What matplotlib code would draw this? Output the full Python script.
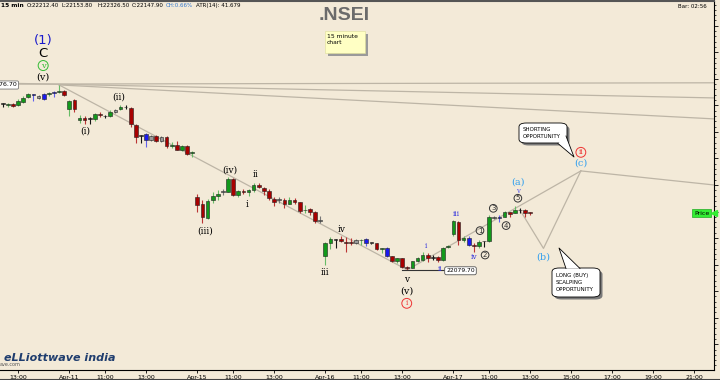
import numpy as np
import matplotlib
matplotlib.use("Agg")
from matplotlib import pyplot as plt
from matplotlib.ticker import MultipleLocator, FixedLocator, FixedFormatter
from matplotlib.patches import Rectangle, FancyBboxPatch, Polygon

# 15 minute NSEI bars, oldest first
opens = [22706, 22701, 22705, 22701, 22713, 22731, 22741, 22735, 22724, 22741,
         22747, 22749, 22754, 22686, 22720, 22645, 22652, 22649, 22649, 22667,
         22660, 22660, 22683, 22686, 22692, 22690, 22626, 22585, 22592, 22585,
         22585, 22581, 22581, 22547, 22551, 22532, 22547, 22520, 22355, 22328,
         22276, 22342, 22359, 22375, 22375, 22423, 22362, 22377, 22372, 22381,
         22398, 22387, 22379, 22349, 22343, 22343, 22330, 22343, 22334, 22304,
         22310, 22300, 22268, 22131, 22183, 22195, 22196, 22185, 22185, 22191,
         22191, 22195, 22181, 22180, 22159, 22161, 22132, 22112, 22123, 22089,
         22089, 22112, 22119, 22136, 22127, 22129, 22117, 22166, 22215, 22262,
         22191, 22202, 22172, 22170, 22189, 22187, 22278, 22278, 22281, 22298,
         22293, 22306, 22306, 22296]
highs = [22707, 22709, 22709, 22724, 22735, 22747, 22743, 22739, 22747, 22750,
         22754, 22777, 22758, 22720, 22724, 22663, 22660, 22656, 22671, 22675,
         22664, 22683, 22686, 22701, 22701, 22694, 22630, 22588, 22596, 22588,
         22588, 22585, 22585, 22562, 22564, 22551, 22549, 22528, 22366, 22343,
         22347, 22374, 22381, 22385, 22430, 22426, 22381, 22385, 22385, 22408,
         22408, 22394, 22385, 22355, 22353, 22351, 22355, 22351, 22336, 22325,
         22313, 22302, 22283, 22185, 22204, 22196, 22208, 22204, 22200, 22195,
         22195, 22202, 22183, 22181, 22164, 22166, 22134, 22125, 22125, 22093,
         22115, 22127, 22146, 22144, 22136, 22131, 22168, 22174, 22268, 22264,
         22208, 22208, 22180, 22193, 22189, 22287, 22283, 22287, 22302, 22300,
         22319, 22313, 22308, 22300]
lows = [22694, 22694, 22694, 22698, 22709, 22728, 22716, 22724, 22722, 22735,
        22731, 22745, 22735, 22660, 22675, 22634, 22630, 22630, 22641, 22656,
        22652, 22656, 22671, 22683, 22686, 22618, 22558, 22558, 22543, 22566,
        22562, 22562, 22541, 22539, 22530, 22528, 22513, 22505, 22298, 22257,
        22272, 22332, 22343, 22362, 22372, 22359, 22355, 22366, 22357, 22372,
        22389, 22362, 22345, 22319, 22332, 22313, 22328, 22328, 22294, 22293,
        22287, 22255, 22257, 22099, 22159, 22163, 22185, 22149, 22174, 22178,
        22174, 22170, 22176, 22155, 22142, 22129, 22110, 22106, 22089, 22080,
        22087, 22110, 22114, 22110, 22117, 22110, 22115, 22163, 22208, 22174,
        22185, 22170, 22149, 22164, 22168, 22185, 22272, 22262, 22279, 22281,
        22293, 22294, 22281, 22287]
closes = [22705, 22705, 22699, 22716, 22728, 22743, 22739, 22726, 22743, 22745,
          22745, 22754, 22739, 22716, 22686, 22652, 22645, 22647, 22667, 22662,
          22658, 22675, 22675, 22692, 22694, 22630, 22581, 22583, 22569, 22568,
          22566, 22564, 22545, 22549, 22532, 22547, 22517, 22522, 22325, 22279,
          22340, 22359, 22366, 22374, 22423, 22362, 22379, 22374, 22381, 22398,
          22392, 22379, 22351, 22334, 22342, 22330, 22343, 22334, 22302, 22306,
          22300, 22264, 22266, 22181, 22195, 22193, 22189, 22183, 22183, 22181,
          22193, 22180, 22180, 22159, 22161, 22132, 22112, 22123, 22091, 22087,
          22114, 22123, 22138, 22123, 22125, 22117, 22164, 22168, 22264, 22193,
          22202, 22174, 22170, 22185, 22187, 22278, 22276, 22276, 22298, 22291,
          22306, 22304, 22296, 22294]
# bar colour code: g up, r down, b blue, s grey, k black
kinds = ("kgrgggbsbg" "bgrgrgrkgr" "kgsgkrrkbs" "rsrgrgrgrr" "gggsgrgrgg"
         "rrrrsrgrrg" "rrsggkrrrs" "gbkrgbrgrr" "gggrkrgggr" "gbrgkgsbgr" "gkrr")

tick_pos = [3, 13, 20, 28, 38, 45, 53, 63, 70, 78, 88, 95, 103, 111, 119, 127, 135]
tick_lab = ["13:00", "Apr-11", "11:00", "13:00", "Apr-15", "11:00", "13:00",
            "Apr-16", "11:00", "13:00", "Apr-17", "11:00", "13:00", "15:00",
            "17:00", "19:00", "21:00"]

low_price = 22079.70
high_label = "22776.70"

# wave labels: text, bar, price, colour, size, circled, family
waves = [
    ("(1)", 7.9, 22946, "#1a1acc", 9.5, False, "sans"),
    ("C", 7.9, 22897, "black", 9.5, False, "sans"),
    ("v", 7.9, 22850, "#33bb33", 6, True, "serif"),
    ("(v)", 7.9, 22807, "black", 7, False, "serif"),
    ("(i)", 16.1, 22603, "black", 6.5, False, "serif"),
    ("(ii)", 22.7, 22731, "black", 6.5, False, "serif"),
    ("(iii)", 39.5, 22227, "black", 6.5, False, "serif"),
    ("(iv)", 44.4, 22456, "black", 6.5, False, "serif"),
    ("ii", 49.3, 22438, "black", 6.5, False, "serif"),
    ("i", 47.8, 22325, "black", 6.5, False, "serif"),
    ("iii", 63, 22072, "black", 6.5, False, "serif"),
    ("iv", 66.2, 22233, "black", 6.5, False, "serif"),
    ("v", 78.9, 22042, "black", 6.5, False, "serif"),
    ("(v)", 78.9, 22000, "black", 7, False, "serif"),
    ("i", 78.9, 21954, "#ee3333", 5.5, True, "serif"),
    ("i", 82.6, 22170, "#3333dd", 5.5, False, "serif"),
    ("ii", 85.4, 22082, "#3333dd", 5.5, False, "serif"),
    ("iii", 88.5, 22291, "#3333dd", 5.5, False, "serif"),
    ("iv", 92.1, 22130, "#3333dd", 5.5, False, "serif"),
    ("1", 93.2, 22228, "#333333", 5, True, "sans"),
    ("2", 94.2, 22136, "#333333", 5, True, "sans"),
    ("3", 95.8, 22312, "#333333", 5, True, "sans"),
    ("4", 98.3, 22247, "#333333", 5, True, "sans"),
    ("5", 100.6, 22350, "#333333", 5, True, "sans"),
    ("v", 100.6, 22378, "#5555ee", 5, False, "serif"),
    ("(a)", 100.6, 22410, "#33a0ee", 7, False, "serif"),
    ("(b)", 105.6, 22128, "#33a0ee", 7, False, "serif"),
    ("(c)", 112.9, 22482, "#33a0ee", 7, False, "serif"),
    ("ii", 112.9, 22523, "#ee3333", 5.5, True, "serif"),
]

bg = "#f3ead8"
fig = plt.figure(figsize=(7.2, 3.8), dpi=100, facecolor=bg)
ax = fig.add_axes([0, 10 / 380, 714 / 720, 369 / 380], facecolor=bg)

x = np.arange(len(opens))
o = np.array(opens, float)
c = np.array(closes, float)
h = np.array(highs, float)
l = np.array(lows, float)

body_col = {"g": "#11991a", "r": "#a80000", "b": "#1a1aee", "s": "#9a9a9a", "k": "#151515"}
wick_col = {"g": "#66bb66", "r": "#bb3333", "b": "#6060ee", "s": "#777777", "k": "#151515"}
fc = np.array([body_col[k] for k in kinds])
wc = [wick_col[k] for k in kinds]

# trend lines (drawn under the candles)
lc = "#bdb5a6"
ax.plot([-0.5, 138.9], [22780, 22785], color=lc, lw=0.9, zorder=1)
ax.plot([-0.5, 138.9], [22784, 22728], color=lc, lw=0.9, zorder=1)
ax.plot([11, 138.9], [22777, 22649], color=lc, lw=0.9, zorder=1)
ax.plot([11, 79], [22777, 22080], color=lc, lw=0.9, zorder=1)
ax.plot([79, 112.9], [22080, 22453], color=lc, lw=0.9, zorder=1)
ax.plot([101, 105.6, 112.9], [22306, 22161, 22453], color=lc, lw=0.9, zorder=1)
ax.plot([112.9, 138.9], [22453, 22400], color=lc, lw=0.9, zorder=1)

# candles
ax.vlines(x, l, h, colors=wc, lw=0.8, zorder=2)
bottom = np.minimum(o, c)
height = np.maximum(np.abs(c - o), 3.5)
ax.bar(x, height, bottom=bottom, width=0.72, color=fc, edgecolor="#202020",
       lw=0.4, zorder=3)

# low marker
ax.plot([77.9, 86.1], [low_price, low_price], color="#333333", lw=0.8, zorder=2)
ax.text(86.6, low_price - 3, f"{low_price:.2f}", fontsize=4.3, va="center", ha="left",
        bbox=dict(boxstyle="round,pad=0.25,rounding_size=0.3", fc="white", ec="#555555", lw=0.6),
        zorder=5)

# wave labels
for txt, bx, py, col, fs, circ, fam in waves:
    kw = {}
    if circ:
        kw["bbox"] = dict(boxstyle="circle,pad=0.12", fc="none", ec=col, lw=0.7)
    ax.text(bx, py, txt, color=col, fontsize=fs, ha="center", va="center",
            family="DejaVu Serif" if fam == "serif" else "DejaVu Sans", zorder=6, **kw)

# axes, ticks
ax.set_xlim(-0.53, 138.9)
ax.set_ylim(21702.8, 23093.2)
ax.yaxis.tick_right()
ax.yaxis.set_major_locator(MultipleLocator(100))
ax.yaxis.set_minor_locator(MultipleLocator(20))
ax.tick_params(axis="y", which="major", length=3, width=0.6, labelsize=5, pad=1)
ax.tick_params(axis="y", which="minor", length=1.5, width=0.5)
ax.xaxis.set_major_locator(FixedLocator(tick_pos))
ax.xaxis.set_major_formatter(FixedFormatter(tick_lab))
ax.tick_params(axis="x", length=2.5, width=0.6, labelsize=4.5, pad=1)
ax.spines["left"].set_visible(False)
ax.spines["top"].set_color("#555555")
ax.spines["top"].set_linewidth(1.5)
ax.spines["right"].set_linewidth(0.8)
ax.spines["bottom"].set_linewidth(0.8)

# last price flag
ax.annotate("Price", xy=(1.0, closes[-1]), xycoords=("axes fraction", "data"),
            xytext=(-3.5, 0), textcoords="offset points", fontsize=4.5, ha="right",
            va="center", bbox=dict(boxstyle="square,pad=0.25", fc="#33ee33", ec="#22aa22", lw=0.5),
            zorder=7)
ax.plot([138.9], [closes[-1]], marker="<", ms=4, color="#33ee33", clip_on=False, zorder=7)

# high price label at the left edge
fig.text(17 / 720, 1 - 85 / 380, high_label, fontsize=4.5, ha="right", va="center",
         bbox=dict(boxstyle="round,pad=0.25,rounding_size=0.2", fc="white", ec="#777777", lw=0.6))

# header
hy = 1 - 5.5 / 380
fig.text(1 / 720, hy, "15 min", fontsize=4.2, weight="bold", va="center")
fig.text(27 / 720, hy, "O:22212.40", fontsize=4, va="center")
fig.text(62 / 720, hy, "L:22153.80", fontsize=4, va="center")
fig.text(97 / 720, hy, "H:22326.50", fontsize=4, va="center")
fig.text(132 / 720, hy, "C:22147.90", fontsize=4, va="center")
fig.text(166 / 720, hy, "CH:0.66%", fontsize=4, va="center", color="#3377cc")
fig.text(196 / 720, hy, "ATR(14): 41.679", fontsize=4, va="center")
fig.text(707 / 720, 1 - 6 / 380, "Bar: 02:56", fontsize=4, ha="right", va="center")
fig.text(344 / 720, 1 - 16 / 380, ".NSEI", fontsize=14, weight="bold", color="#6b6b6b",
         family="Liberation Sans", ha="center", va="center")

# "15 minute chart" note
ff = fig.transFigure
ax.add_artist(Rectangle((328 / 720, 1 - 56 / 380), 40 / 720, 22 / 380, fc="#9a9a9a", ec="none",
                        transform=ff, zorder=8))
ax.add_artist(Rectangle((325 / 720, 1 - 53 / 380), 40 / 720, 22 / 380, fc="#ffffc4",
                        ec="#dddd99", lw=0.4, transform=ff, zorder=9))
ax.text(327 / 720, 1 - 34 / 380, "15 minute\nchart", fontsize=4.3, va="top", linespacing=1.3,
        transform=ff, zorder=10)


def callout(x0, y0, x1, y1, tail, text):
    """speech bubble, corners and tail in image pixels"""
    w, hgt = (x1 - x0) / 720, (y1 - y0) / 380
    ax.add_artist(FancyBboxPatch((x0 / 720 + 2.5 / 720, 1 - y1 / 380 - 2.5 / 380), w, hgt,
                                 boxstyle="round,pad=0,rounding_size=0.01", fc="#7a7a7a",
                                 ec="none", transform=ff, zorder=8))
    ax.add_artist(FancyBboxPatch((x0 / 720, 1 - y1 / 380), w, hgt,
                                 boxstyle="round,pad=0,rounding_size=0.01", fc="white",
                                 ec="black", lw=0.6, transform=ff, zorder=9))
    pts = [(px / 720, 1 - py / 380) for px, py in tail]
    ax.add_artist(Polygon(pts, closed=True, fc="white", ec="none", transform=ff, zorder=10))
    ax.add_artist(plt.Line2D([pts[0][0], pts[1][0], pts[2][0]], [pts[0][1], pts[1][1], pts[2][1]],
                             color="black", lw=0.6, transform=ff, zorder=10))
    ax.text(x0 / 720 + 4 / 720, 1 - (y0 + y1) / 2 / 380, text, fontsize=4, va="center",
            ha="left", linespacing=1.55, transform=ff, zorder=11)


callout(519, 123, 567, 143, [(558, 143.5), (574, 157), (566, 136)], "SHORTING\nOPPORTUNITY")
callout(552, 268, 600, 297, [(566, 268.5), (559, 248), (580, 268.5)],
        "LONG (BUY)\nSCALPING\nOPPORTUNITY")

# watermark
fig.text(4 / 720, 1 - 358 / 380, "eLLiottwave india", fontsize=8, style="italic",
         weight="bold", color="#1f3d6e", va="center")
fig.text(0, 1 - 365 / 380, "ave.com", fontsize=3.5, color="#555555", va="center")

fig.add_artist(plt.Line2D([0, 1], [0.5 / 380, 0.5 / 380], color="#444444", lw=1.5,
                          transform=fig.transFigure))

fig.savefig("out.png", dpi=100, facecolor=bg)
